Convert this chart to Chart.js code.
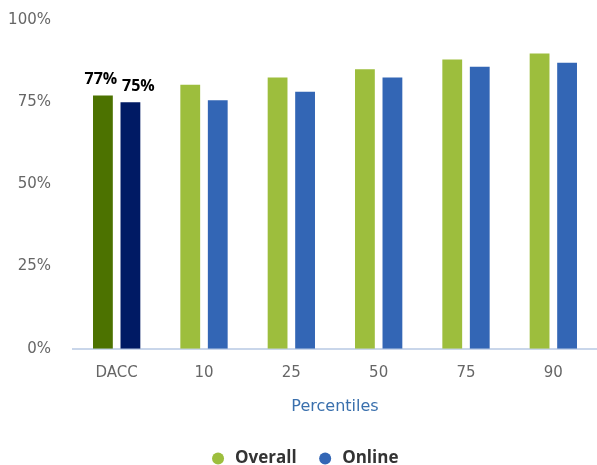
<!DOCTYPE html>
<html>
<head>
<meta charset="utf-8">
<script src="https://cdn.jsdelivr.net/npm/chart.js@4/dist/chart.umd.min.js"></script>
<style>
  html, body { margin: 0; padding: 0; background: #fff; }
  #wrap { width: 597px; height: 465px; }
</style>
</head>
<body>
<div id="wrap"><canvas id="chart"></canvas></div>
<script>
// data
const categories = ['DACC', '10', '25', '50', '75', '90'];
const overall = [77, 80.3, 82.5, 85, 88, 89.8];
const online = [75, 75.6, 78.2, 82.5, 85.8, 87];
const yTicks = [0, 25, 50, 75, 100];

const green = '#9DBE3D', greenDark = '#4C7200';
const blue = '#3366B5', blueDark = '#001A64';

// DACC bars get darker shades
function shade(base, dark) {
    return ctx => ctx.dataIndex === 0 ? dark : base;
}

// value labels above the DACC bars only (nudged apart so they don't collide)
const daccLabels = {
    id: 'daccLabels',
    afterDatasetsDraw(chart) {
        const ctx = chart.ctx;
        const nudge = [-2, 8];
        ctx.save();
        ctx.font = 'bold 16px "Open Sans"';
        ctx.fillStyle = '#000';
        ctx.textAlign = 'center';
        ctx.textBaseline = 'bottom';
        chart.data.datasets.forEach((ds, i) => {
            const bar = chart.getDatasetMeta(i).data[0];
            ctx.fillText(Math.round(ds.data[0]) + '%', bar.x + nudge[i], bar.y - 8);
        });
        ctx.restore();
    }
};

new Chart(document.getElementById('chart'), {
    type: 'bar',
    data: {
        labels: categories,
        datasets: [
            { label: 'Overall', data: overall, backgroundColor: shade(green, greenDark) },
            { label: 'Online', data: online, backgroundColor: shade(blue, blueDark) }
        ]
    },
    options: {
        responsive: true,
        maintainAspectRatio: false,
        animation: false,
        categoryPercentage: 0.63,
        barPercentage: 0.72,
        layout: { padding: { top: 20, left: 0, right: -11, bottom: -12 } },
        plugins: {
            tooltip: { enabled: false },
            legend: {
                position: 'bottom',
                labels: {
                    usePointStyle: true,
                    pointStyle: 'circle',
                    boxHeight: 8.5,
                    padding: 20,
                    color: '#333',
                    font: { family: '"Open Sans"', size: 17, weight: 'bold' },
                    generateLabels: chart => chart.data.datasets.map((ds, i) => ({
                        text: ds.label,
                        fillStyle: i === 0 ? green : blue,
                        strokeStyle: i === 0 ? green : blue,
                        lineWidth: 0,
                        pointStyle: 'circle',
                        datasetIndex: i,
                        fontColor: '#333'
                    }))
                }
            }
        },
        scales: {
            x: {
                grid: { display: false, drawTicks: false },
                border: { display: true, color: '#C9D6EA', width: 2 },
                ticks: { color: '#666', padding: 15, font: { family: '"DejaVu Sans"', size: 15 } },
                title: {
                    display: true,
                    text: 'Percentiles',
                    color: '#3A70AD',
                    padding: { top: 0, bottom: 14 },
                    font: { family: '"DejaVu Sans"', size: 16 }
                }
            },
            y: {
                min: 0,
                max: 100,
                afterFit: scale => { scale.width = 73; },
                afterBuildTicks: scale => { scale.ticks = yTicks.map(v => ({ value: v })); },
                // tick marks hidden, tickLength only sets the label gap
                grid: { display: false, drawTicks: true, tickLength: 22 },
                border: { display: false },
                ticks: {
                    color: '#666',
                    padding: 0,
                    font: { family: '"DejaVu Sans"', size: 15 },
                    callback: v => v + '%'
                }
            }
        }
    },
    plugins: [daccLabels]
});
</script>
</body>
</html>
